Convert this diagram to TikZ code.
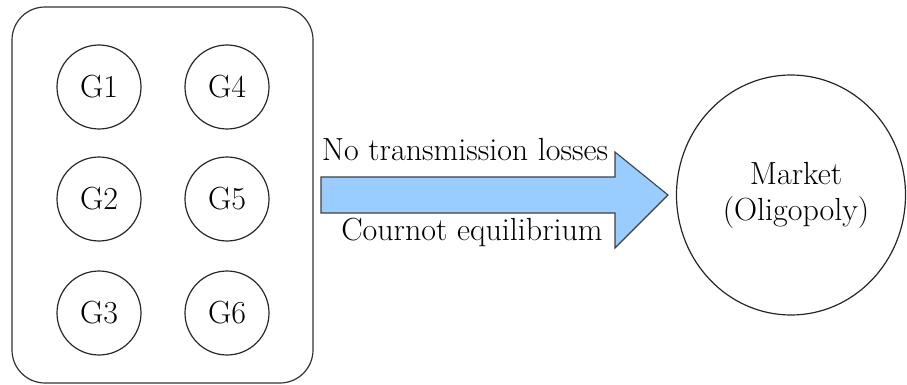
\documentclass[tikz,border=0pt]{standalone}
\usetikzlibrary{shapes.geometric}
\begin{document}
\begin{tikzpicture}[x=1pt,y=-1pt,
  lbl/.style={font=\fontsize{32}{36}\selectfont, inner sep=0pt},
  gen/.style={draw=black!85, line width=1.2pt, circle, minimum size=84pt, inner sep=0pt, font=\fontsize{32}{36}\selectfont},
  grp/.style={draw=black!80, line width=1.2pt, rounded corners=33pt},
  mkt/.style={draw=black!85, line width=1.2pt, ellipse, minimum width=229pt, minimum height=240pt, inner sep=0pt}]
\useasboundingbox (0,0) rectangle (907,385);
\definecolor{arrowblue}{HTML}{99CCFF}
\draw[grp] (12,7) rectangle (313,383);
\node[gen] (g1) at (99,87) {G1};
\node[gen] (g2) at (99,199) {G2};
\node[gen] (g3) at (99,313) {G3};
\node[gen] (g4) at (227,87) {G4};
\node[gen] (g5) at (227,199) {G5};
\node[gen] (g6) at (227,313) {G6};
\draw[draw=black!75, line width=1.1pt, fill=arrowblue]
  (321,177) -- (615,177) -- (615,152) -- (668,195) -- (615,248) -- (615,213) -- (321,213) -- cycle;
\node[lbl] (t1) at (465,150) {No transmission losses};
\node[lbl] (t2) at (472,232) {Cournot equilibrium};
\node[mkt] (mk) at (791,195) {};
\node[lbl, align=center] (mt) at (796,195) {Market\\(Oligopoly)};
\end{tikzpicture}
\end{document}
